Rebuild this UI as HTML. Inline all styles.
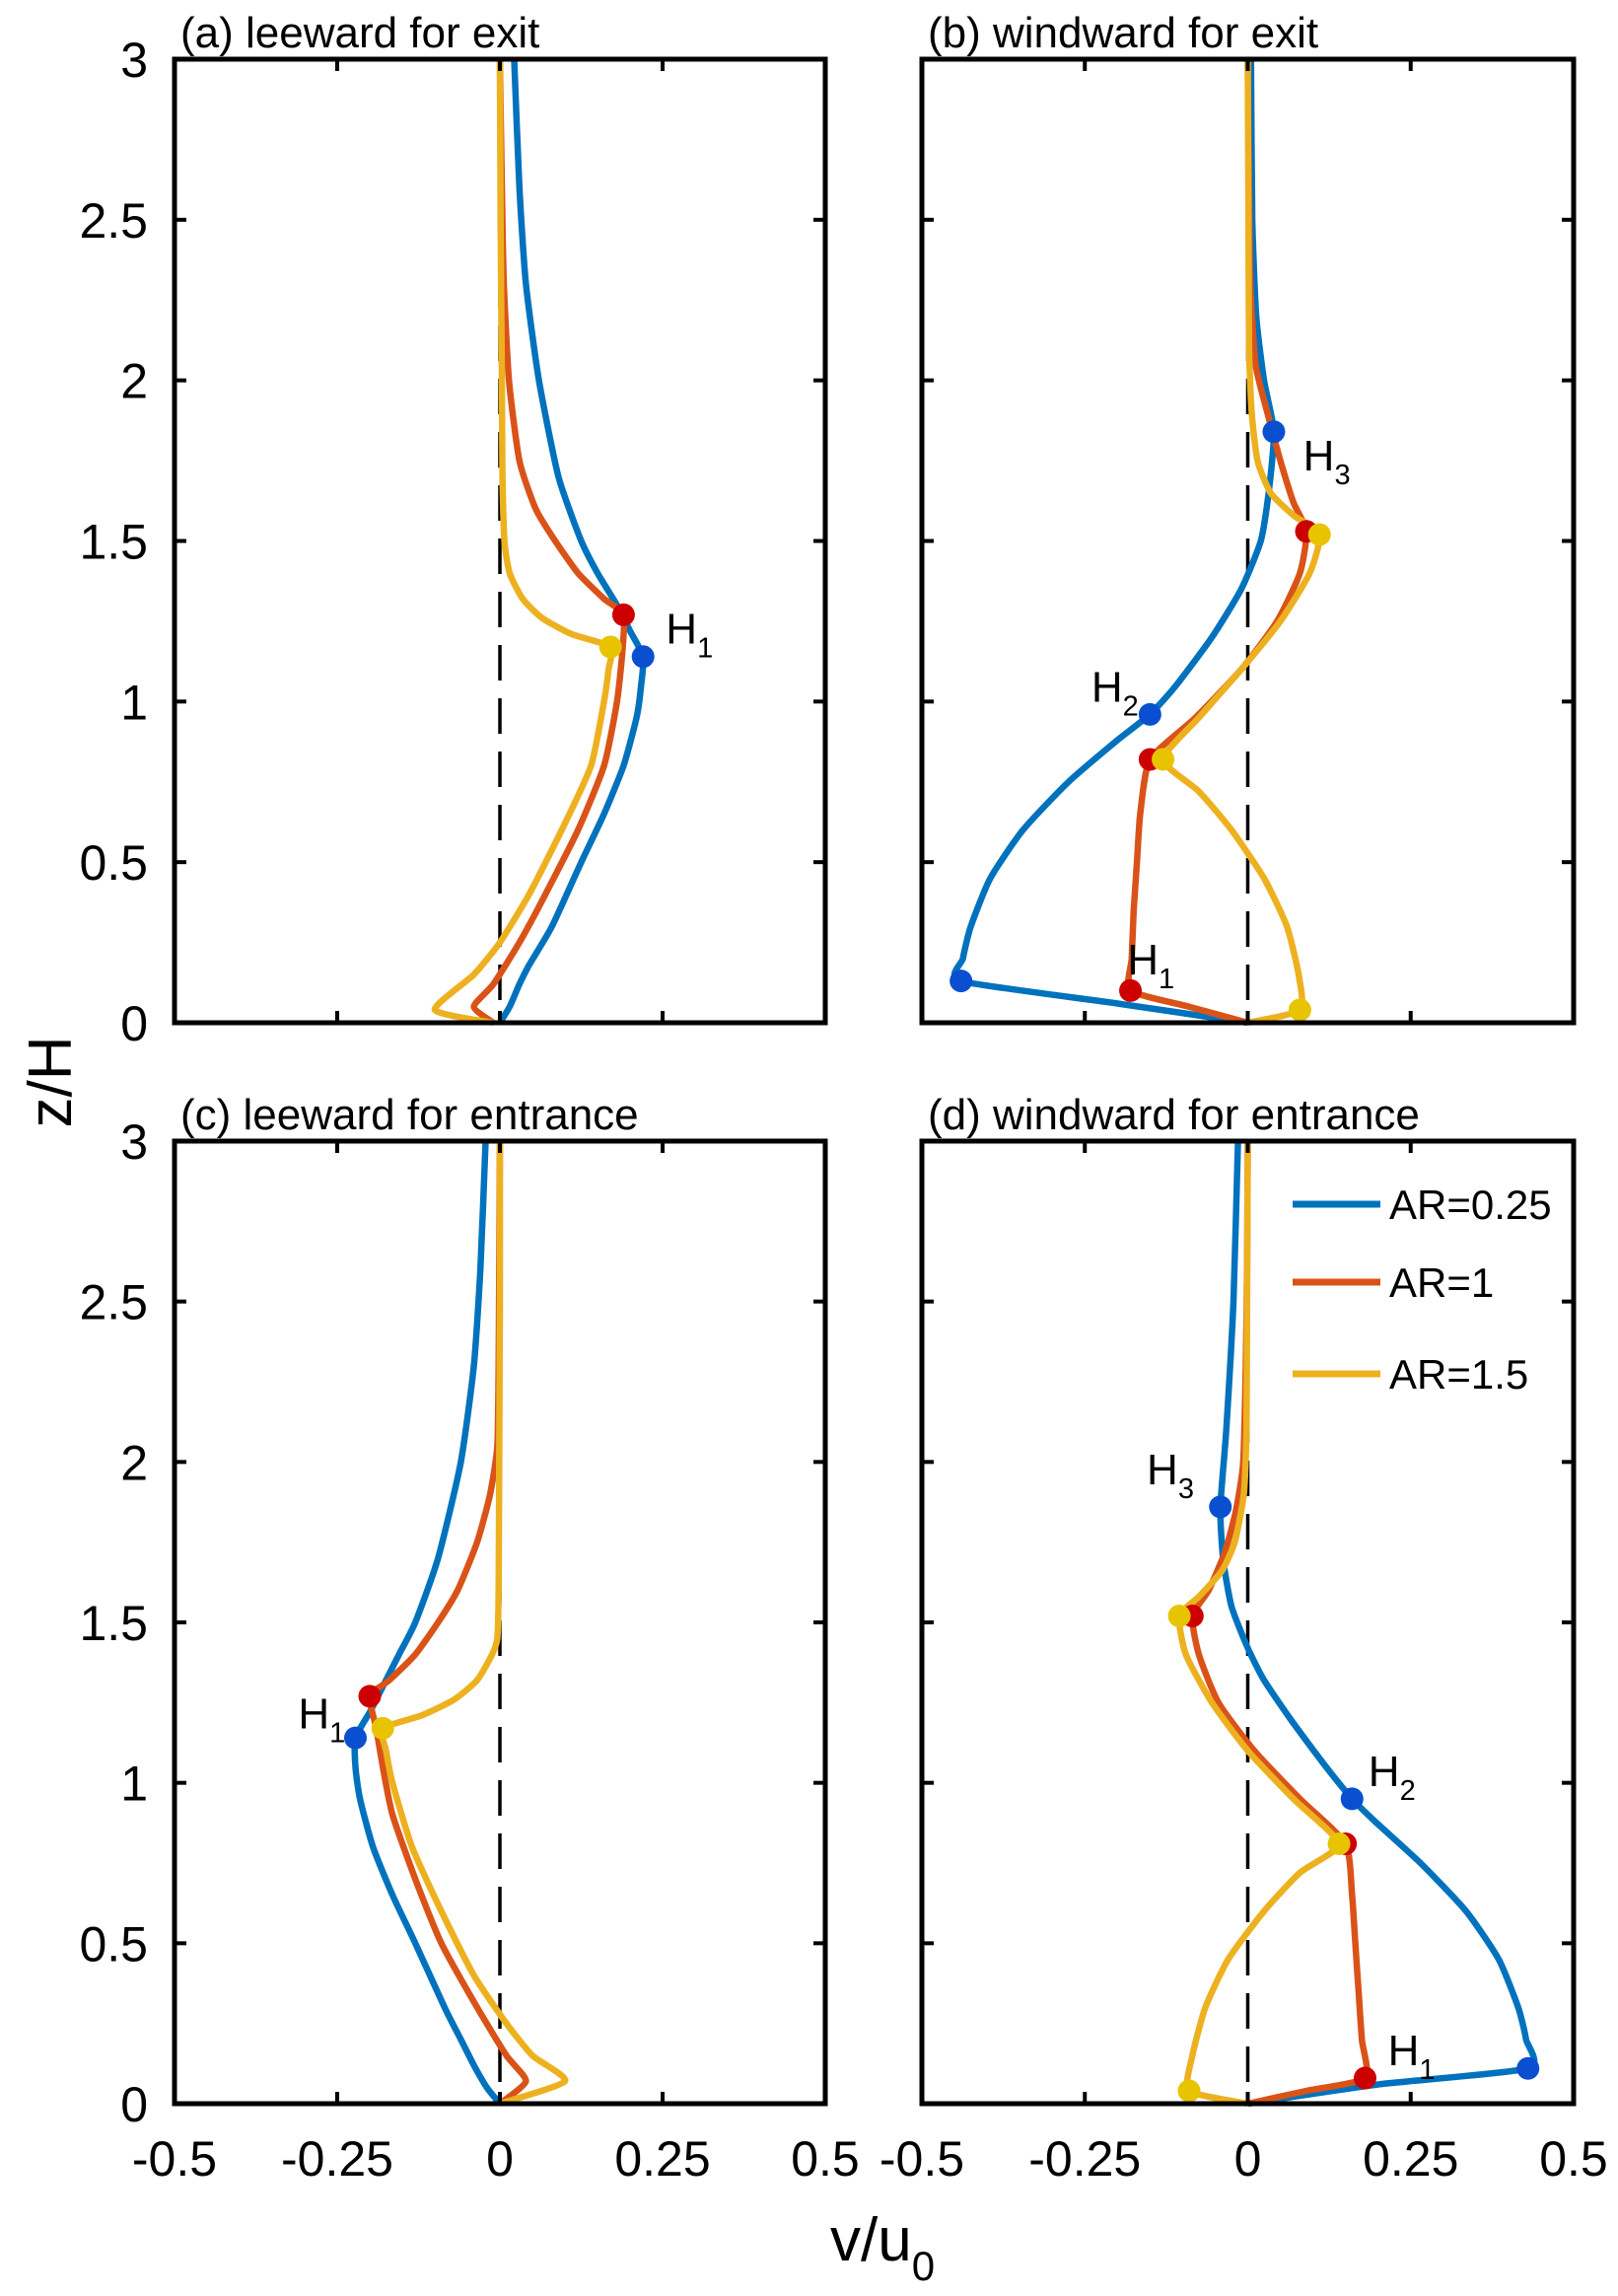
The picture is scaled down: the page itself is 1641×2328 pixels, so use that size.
<!DOCTYPE html>
<html><head><meta charset="utf-8">
<style>
html,body{margin:0;padding:0;background:#fff;}
svg{display:block;font-family:"Liberation Sans",Arial,sans-serif;}
</style></head>
<body>
<svg id="fig" width="1641" height="2328" viewBox="0 0 1641 2328" xmlns="http://www.w3.org/2000/svg"></svg>
<script>
// ---- data (z/H vs v/u0) ----
const xTicks = [-0.5, -0.25, 0, 0.25, 0.5];
const xTickLabels = ["-0.5", "-0.25", "0", "0.25", "0.5"];
const yTicks = [0, 0.5, 1, 1.5, 2, 2.5, 3];
const yTickLabels = ["0", "0.5", "1", "1.5", "2", "2.5", "3"];
const seriesNames = ["AR=0.25", "AR=1", "AR=1.5"];

// panel a: leeward for exit
const aBlueZ = [0, 0.05, 0.12, 0.18, 0.3, 0.5, 0.65, 0.8, 0.95, 1.05, 1.14, 1.22, 1.3, 1.4, 1.5, 1.7, 2.0, 2.3, 2.6, 3.0];
const aBlueV = [0, 0.015, 0.03, 0.045, 0.08, 0.125, 0.16, 0.19, 0.21, 0.217, 0.22, 0.2, 0.18, 0.15, 0.125, 0.09, 0.06, 0.04, 0.03, 0.022];
const aOrgZ = [0, 0.05, 0.12, 0.25, 0.4, 0.6, 0.8, 1.0, 1.15, 1.27, 1.32, 1.4, 1.5, 1.6, 1.75, 2.0, 2.3, 2.6, 3.0];
const aOrgV = [-0.01, -0.04, -0.01, 0.03, 0.07, 0.12, 0.16, 0.18, 0.188, 0.19, 0.16, 0.12, 0.085, 0.055, 0.03, 0.014, 0.006, 0.003, 0];
const aYelZ = [0, 0.04, 0.15, 0.25, 0.4, 0.6, 0.8, 1.0, 1.1, 1.17, 1.21, 1.26, 1.32, 1.4, 1.5, 1.7, 2.0, 2.5, 3.0];
const aYelV = [-0.01, -0.1, -0.04, 0.0, 0.045, 0.095, 0.14, 0.16, 0.167, 0.17, 0.11, 0.065, 0.035, 0.015, 0.007, 0.004, 0.003, 0.001, 0];

// panel b: windward for exit
const bBlueZ = [0, 0.06, 0.13, 0.2, 0.3, 0.45, 0.6, 0.75, 0.88, 0.96, 1.05, 1.2, 1.35, 1.5, 1.65, 1.84, 2.0, 2.2, 2.5, 3.0];
const bBlueV = [0, -0.2, -0.44, -0.437, -0.425, -0.395, -0.345, -0.275, -0.2, -0.15, -0.11, -0.055, -0.01, 0.02, 0.032, 0.04, 0.025, 0.013, 0.007, 0.005];
const bOrgZ = [0, 0.05, 0.1, 0.2, 0.35, 0.5, 0.65, 0.82, 0.95, 1.1, 1.25, 1.4, 1.53, 1.62, 1.75, 1.9, 2.05, 2.3, 2.6, 3.0];
const bOrgV = [0, -0.09, -0.18, -0.178, -0.175, -0.17, -0.165, -0.15, -0.08, -0.01, 0.045, 0.08, 0.09, 0.07, 0.05, 0.03, 0.012, 0.004, 0.002, 0];
const bYelZ = [0, 0.04, 0.15, 0.3, 0.45, 0.6, 0.72, 0.82, 0.95, 1.1, 1.25, 1.4, 1.52, 1.58, 1.65, 1.75, 1.9, 2.1, 2.5, 3.0];
const bYelV = [0, 0.08, 0.078, 0.06, 0.025, -0.025, -0.075, -0.13, -0.075, -0.01, 0.05, 0.095, 0.11, 0.07, 0.035, 0.015, 0.006, 0.002, 0.001, 0];

// panel c: leeward for entrance
const cBlueZ = [0, 0.05, 0.12, 0.2, 0.3, 0.5, 0.65, 0.8, 0.95, 1.05, 1.14, 1.22, 1.3, 1.4, 1.5, 1.7, 2.0, 2.3, 2.6, 3.0];
const cBlueV = [0, -0.02, -0.04, -0.06, -0.085, -0.13, -0.165, -0.195, -0.215, -0.222, -0.222, -0.2, -0.18, -0.155, -0.13, -0.095, -0.06, -0.04, -0.03, -0.022];
const cOrgZ = [0, 0.07, 0.15, 0.3, 0.5, 0.7, 0.9, 1.05, 1.17, 1.27, 1.32, 1.4, 1.5, 1.6, 1.75, 1.9, 2.05, 2.3, 2.6, 3.0];
const cOrgV = [0, 0.04, 0.01, -0.035, -0.09, -0.13, -0.165, -0.18, -0.19, -0.2, -0.17, -0.13, -0.095, -0.065, -0.035, -0.015, -0.004, -0.002, -0.001, 0];
const cYelZ = [0, 0.07, 0.15, 0.25, 0.4, 0.6, 0.8, 1.0, 1.1, 1.17, 1.21, 1.26, 1.32, 1.4, 1.45, 1.6, 2.0, 2.5, 3.0];
const cYelV = [0, 0.1, 0.05, 0.01, -0.04, -0.09, -0.135, -0.165, -0.175, -0.18, -0.12, -0.07, -0.035, -0.012, -0.004, -0.002, -0.001, 0, 0];

// panel d: windward for entrance
const dBlueZ = [0, 0.06, 0.11, 0.2, 0.3, 0.45, 0.6, 0.75, 0.88, 0.95, 1.05, 1.2, 1.32, 1.42, 1.55, 1.7, 1.86, 2.1, 2.5, 3.0];
const dBlueV = [0, 0.2, 0.43, 0.427, 0.415, 0.385, 0.335, 0.265, 0.195, 0.16, 0.12, 0.065, 0.025, 0.0, -0.025, -0.038, -0.042, -0.033, -0.022, -0.015];
const dOrgZ = [0, 0.04, 0.08, 0.2, 0.35, 0.5, 0.65, 0.81, 0.95, 1.1, 1.25, 1.4, 1.52, 1.6, 1.72, 1.85, 2.0, 2.3, 2.6, 3.0];
const dOrgV = [0, 0.09, 0.18, 0.175, 0.17, 0.165, 0.16, 0.15, 0.08, 0.01, -0.045, -0.075, -0.085, -0.06, -0.035, -0.018, -0.007, -0.003, -0.001, 0];
const dYelZ = [0, 0.04, 0.15, 0.3, 0.45, 0.6, 0.72, 0.81, 0.95, 1.1, 1.25, 1.4, 1.52, 1.58, 1.66, 1.75, 1.9, 2.1, 2.5, 3.0];
const dYelV = [0, -0.09, -0.085, -0.065, -0.03, 0.025, 0.08, 0.14, 0.07, 0.0, -0.055, -0.095, -0.105, -0.075, -0.04, -0.02, -0.006, -0.002, -0.001, 0];

// markers [v, z]
const aMarkV = [0.22, 0.19, 0.17];
const aMarkZ = [1.14, 1.27, 1.17];
const bMarkV = [-0.44, -0.15, 0.04, -0.18, -0.15, 0.09, 0.08, -0.13, 0.11];
const bMarkZ = [0.13, 0.96, 1.84, 0.1, 0.82, 1.53, 0.04, 0.82, 1.52];
const bMarkS = [0, 0, 0, 1, 1, 1, 2, 2, 2];
const cMarkV = [-0.222, -0.2, -0.18];
const cMarkZ = [1.14, 1.27, 1.17];
const dMarkV = [0.43, 0.16, -0.042, 0.18, 0.15, -0.085, -0.09, 0.14, -0.105];
const dMarkZ = [0.11, 0.95, 1.86, 0.08, 0.81, 1.52, 0.04, 0.81, 1.52];
const dMarkS = [0, 0, 0, 1, 1, 1, 2, 2, 2];

// ---- drawing ----
const NS = "http://www.w3.org/2000/svg";
const svg = document.getElementById("fig");
const lineColors = ["#0072BD", "#D95319", "#EDB120"];
const markColors = ["#0a4fd0", "#cc0000", "#e8c400"];
function el(tag, attrs, parent) {
  const e = document.createElementNS(NS, tag);
  for (const k in attrs) e.setAttribute(k, attrs[k]);
  (parent || svg).appendChild(e);
  return e;
}
const panels = [
  {id: "a", title: "(a) leeward for exit", x0: 177, x1: 837, y0: 60, y1: 1037, showX: false, showY: true,
   lines: [[aBlueV, aBlueZ], [aOrgV, aOrgZ], [aYelV, aYelZ]], mv: aMarkV, mz: aMarkZ, ms: [0, 1, 2],
   labels: [["H", "1", 0.255, 1.18]]},
  {id: "b", title: "(b) windward for exit", x0: 935, x1: 1596, y0: 60, y1: 1037, showX: false, showY: false,
   lines: [[bBlueV, bBlueZ], [bOrgV, bOrgZ], [bYelV, bYelZ]], mv: bMarkV, mz: bMarkZ, ms: bMarkS,
   labels: [["H", "3", 0.085, 1.72], ["H", "2", -0.24, 1.0], ["H", "1", -0.185, 0.15]]},
  {id: "c", title: "(c) leeward for entrance", x0: 177, x1: 837, y0: 1157, y1: 2133, showX: true, showY: true,
   lines: [[cBlueV, cBlueZ], [cOrgV, cOrgZ], [cYelV, cYelZ]], mv: cMarkV, mz: cMarkZ, ms: [0, 1, 2],
   labels: [["H", "1", -0.31, 1.17]]},
  {id: "d", title: "(d) windward for entrance", x0: 935, x1: 1596, y0: 1157, y1: 2133, showX: true, showY: false,
   lines: [[dBlueV, dBlueZ], [dOrgV, dOrgZ], [dYelV, dYelZ]], mv: dMarkV, mz: dMarkZ, ms: dMarkS,
   labels: [["H", "3", -0.155, 1.93], ["H", "2", 0.185, 0.99], ["H", "1", 0.215, 0.12]], legend: true}
];
function smoothPath(pts) {
  let d = "M" + pts[0][0].toFixed(1) + "," + pts[0][1].toFixed(1);
  for (let i = 0; i < pts.length - 1; i++) {
    const p0 = pts[Math.max(0, i - 1)], p1 = pts[i], p2 = pts[i + 1], p3 = pts[Math.min(pts.length - 1, i + 2)];
    const t = 0.1;
    const c1 = [p1[0] + (p2[0] - p0[0]) * t, p1[1] + (p2[1] - p0[1]) * t];
    const c2 = [p2[0] - (p3[0] - p1[0]) * t, p2[1] - (p3[1] - p1[1]) * t];
    d += " C" + c1[0].toFixed(1) + "," + c1[1].toFixed(1) + " " + c2[0].toFixed(1) + "," + c2[1].toFixed(1) + " " + p2[0].toFixed(1) + "," + p2[1].toFixed(1);
  }
  return d;
}
panels.forEach(p => {
  const g = el("g", {});
  
  
  const sx = v => p.x0 + (v + 0.5) * (p.x1 - p.x0);
  const sy = z => p.y1 - z / 3 * (p.y1 - p.y0);
  const t = el("text", {x: p.x0 + 6, y: p.y0 - 12, "font-size": 44, fill: "#000"}, g);
  t.textContent = p.title;
  
  
  const zl = el("line", {x1: sx(0), x2: sx(0), y1: p.y0, y2: p.y1, stroke: "#000", "stroke-width": 3.5, "stroke-dasharray": "36,18"}, g);
  
  
  p.lines.forEach((ln, si) => {
    const pts = ln[1].map((z, i) => [sx(ln[0][i]), sy(z)]);
    const path = el("path", {d: smoothPath(pts), fill: "none", stroke: lineColors[si], "stroke-width": 6.5, "stroke-linejoin": "round"}, g);
    
    
  });
  p.mv.forEach((v, i) => {
    const c = el("circle", {cx: sx(v), cy: sy(p.mz[i]), r: 11.5, fill: markColors[p.ms[i]]}, g);
    
    
  });
  p.labels.forEach(lb => {
    const tx = el("text", {x: sx(lb[2]), y: sy(lb[3]), "font-size": 44, fill: "#000"}, g);
    
    
    const m = el("tspan", {}, tx); m.textContent = lb[0];
    const s = el("tspan", {"font-size": 29, dy: 14}, tx); s.textContent = lb[1];
  });
  const box = el("rect", {x: p.x0, y: p.y0, width: p.x1 - p.x0, height: p.y1 - p.y0, fill: "none", stroke: "#000", "stroke-width": 5}, g);
  
  
  xTicks.forEach((v, i) => {
    el("line", {x1: sx(v), x2: sx(v), y1: p.y1, y2: p.y1 - 12, stroke: "#000", "stroke-width": 4}, g);
    el("line", {x1: sx(v), x2: sx(v), y1: p.y0, y2: p.y0 + 12, stroke: "#000", "stroke-width": 4}, g);
    if (p.showX) {
      const tl = el("text", {x: sx(v), y: 2206, "font-size": 50, "text-anchor": "middle", fill: "#000"}, g);
      tl.textContent = xTickLabels[i];
      
      
    }
  });
  yTicks.forEach((z, i) => {
    el("line", {x1: p.x0, x2: p.x0 + 12, y1: sy(z), y2: sy(z), stroke: "#000", "stroke-width": 4}, g);
    el("line", {x1: p.x1, x2: p.x1 - 12, y1: sy(z), y2: sy(z), stroke: "#000", "stroke-width": 4}, g);
    if (p.showY) {
      const tl = el("text", {x: 150, y: sy(z) + 18, "font-size": 50, "text-anchor": "end", fill: "#000"}, g);
      tl.textContent = yTickLabels[i];
      
      
    }
  });
  if (p.legend) {
    const lg = el("g", {}, g);
    
    
    const ly = [1221, 1300, 1393];
    seriesNames.forEach((n, i) => {
      const e = el("g", {}, lg);
      
      
      el("line", {x1: 1311, x2: 1400, y1: ly[i], y2: ly[i], stroke: lineColors[i], "stroke-width": 7}, e);
      const tx = el("text", {x: 1409, y: ly[i] + 15, "font-size": 42, fill: "#000"}, e);
      tx.textContent = n;
    });
  }
});
const yl = el("text", {x: 0, y: 0, "font-size": 62, "text-anchor": "middle", transform: "translate(72,1097) rotate(-90)", fill: "#000"});
yl.textContent = "z/H";


const xl = el("text", {x: 842, y: 2292, "font-size": 62, fill: "#000"});


const xm = el("tspan", {}, xl); xm.textContent = "v/u";
const xs = el("tspan", {"font-size": 42, dy: 20}, xl); xs.textContent = "0";
</script>
</body></html>
